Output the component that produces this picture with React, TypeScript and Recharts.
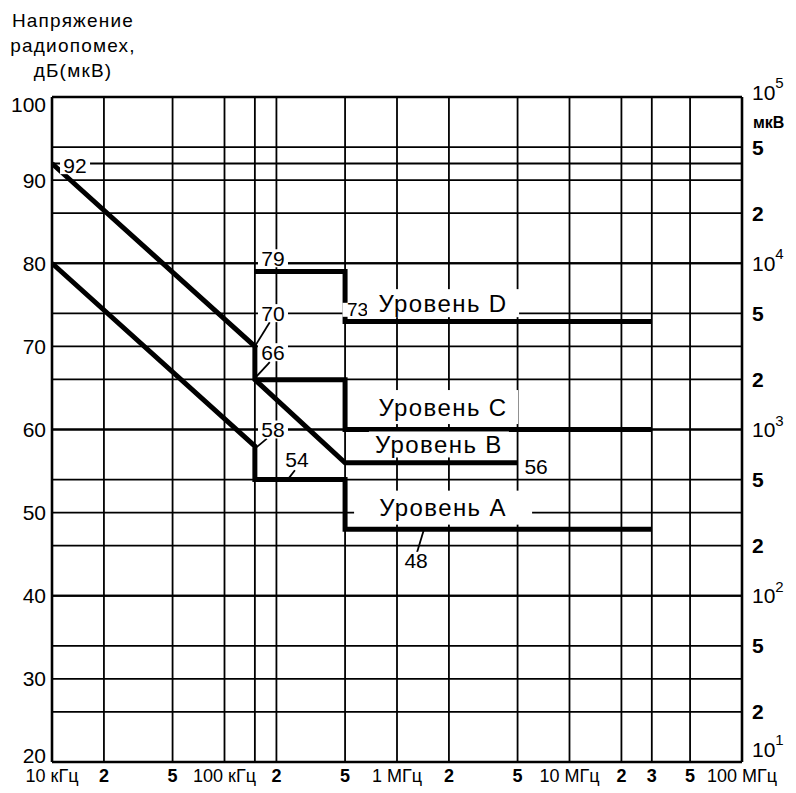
import {
  ComposedChart,
  Line,
  ReferenceDot,
  ReferenceLine,
  XAxis,
  YAxis,
} from "recharts";

// Допустимые уровни радиопомех: сетка в дБ(мкВ) слева и мкВ справа,
// частота по логарифмической шкале 10 кГц – 100 МГц.

const FONT = '"Liberation Sans", Arial, sans-serif';

// частоты, Гц
const xTicks = [1e4, 2e4, 5e4, 1e5, 2e5, 5e5, 1e6, 2e6, 5e6, 1e7, 2e7, 3e7, 5e7, 1e8];
const xTickLabels = ["10 кГц", "2", "5", "100 кГц", "2", "5", "1 МГц", "2", "5", "10 МГц", "2", "3", "5", "100 МГц"];
const xGrid = [2e4, 5e4, 1e5, 1.5e5, 2e5, 5e5, 1e6, 2e6, 5e6, 1e7, 2e7, 3e7, 5e7];

// дБ(мкВ)
const dbTicks = [20, 30, 40, 50, 60, 70, 80, 90, 100];
// правая шкала, мкВ
const uvTicks = [1e1, 2e1, 5e1, 1e2, 2e2, 5e2, 1e3, 2e3, 5e3, 1e4, 2e4, 5e4, 1e5];
const uvToDb = (uv: number) => 20 * Math.log10(uv);
const extraGrid = [92];

// уровни
const levelD = [
  { f: 1.5e5, db: 79 },
  { f: 5e5, db: 79 },
  { f: 5e5, db: 73 },
  { f: 3e7, db: 73 },
];
const levelC = [
  { f: 1.5e5, db: 66 },
  { f: 5e5, db: 66 },
  { f: 5e5, db: 60 },
  { f: 3e7, db: 60 },
];
const levelB = [
  { f: 1e4, db: 92 },
  { f: 1.5e5, db: 70 },
  { f: 1.5e5, db: 66 },
  { f: 5e5, db: 56 },
  { f: 5e6, db: 56 },
];
const levelA = [
  { f: 1e4, db: 80 },
  { f: 1.5e5, db: 58 },
  { f: 1.5e5, db: 54 },
  { f: 5e5, db: 54 },
  { f: 5e5, db: 48 },
  { f: 3e7, db: 48 },
];

// подписи (центр текста в координатах графика)
const tags = [
  { text: "92", f: 1.36e4, db: 91.8 },
  { text: "79", f: 1.91e5, db: 80.6 },
  { text: "70", f: 1.91e5, db: 74.0 },
  { text: "66", f: 1.91e5, db: 69.3 },
  { text: "58", f: 1.91e5, db: 60.0 },
  { text: "54", f: 2.63e5, db: 56.4 },
  { text: "73", f: 5.9e5, db: 74.4 },
  { text: "56", f: 6.4e6, db: 55.6 },
  { text: "48", f: 1.29e6, db: 44.2 },
  { text: "Уровень D", f: 1.85e6, db: 75.2 },
  { text: "Уровень C", f: 1.85e6, db: 62.7 },
  { text: "Уровень B", f: 1.75e6, db: 58.2 },
  { text: "Уровень A", f: 1.85e6, db: 50.6 },
];
const tagBox: Record<string, { w: number; h: number; size: number }> = {
  "92": { w: 30, h: 18, size: 21 },
  "79": { w: 30, h: 18, size: 21 },
  "70": { w: 30, h: 18, size: 21 },
  "66": { w: 30, h: 18, size: 21 },
  "58": { w: 30, h: 18, size: 21 },
  "54": { w: 28, h: 18, size: 21 },
  "73": { w: 30, h: 14, size: 19 },
  "56": { w: 28, h: 18, size: 21 },
  "48": { w: 28, h: 18, size: 21 },
  "Уровень D": { w: 152, h: 28, size: 24 },
  "Уровень C": { w: 150, h: 34, size: 24 },
  "Уровень B": { w: 140, h: 26, size: 24 },
  "Уровень A": { w: 178, h: 34, size: 24 },
};

// выноски
const leaders = [
  [{ x: 1.83e5, y: 72.9 }, { x: 1.5e5, y: 70 }],
  [{ x: 1.83e5, y: 68.1 }, { x: 1.52e5, y: 66.3 }],
  [{ x: 1.76e5, y: 58.9 }, { x: 1.5e5, y: 57.7 }],
  [{ x: 2.56e5, y: 55.1 }, { x: 2.33e5, y: 54 }],
  [{ x: 1.306e6, y: 45.2 }, { x: 1.434e6, y: 48 }],
];

function Tag(props: any) {
  const { cx, cy, text } = props;
  const b = tagBox[text];
  return (
    <g>
      <rect x={cx - b.w / 2} y={cy - b.h / 2} width={b.w} height={b.h} fill="#fff" />
      <text
        x={cx}
        y={cy}
        textAnchor="middle"
        dominantBaseline="central"
        fontSize={b.size}
        fontFamily={FONT}
        letterSpacing={text.length > 3 ? 1.4 : 0}
        fill="#000"
      >
        {text}
      </text>
    </g>
  );
}

function XTick(props: any) {
  const { x, y, payload } = props;
  const i = xTicks.indexOf(payload.value);
  const label = xTickLabels[i] ?? "";
  const bold = label.length === 1;
  return (
    <text
      x={x}
      y={y + 20}
      textAnchor="middle"
      fontSize={18}
      fontWeight={bold ? 700 : 400}
      fontFamily={FONT}
      fill="#000"
    >
      {label}
    </text>
  );
}

function LeftTick(props: any) {
  const { x, y, payload } = props;
  const v = payload.value;
  const dy = v === 100 ? 7 : v === 20 ? -7 : 0;
  return (
    <text x={x} y={y + dy} textAnchor="end" dominantBaseline="central" fontSize={21} fontFamily={FONT} fill="#000">
      {v}
    </text>
  );
}

function RightTick(props: any) {
  const { x, y, payload } = props;
  const uv = uvTicks.find((u) => Math.abs(uvToDb(u) - payload.value) < 0.01) ?? 10;
  const exp = Math.floor(Math.log10(uv) + 1e-9);
  const mant = Math.round(uv / Math.pow(10, exp));
  if (mant === 1) {
    const dy = exp === 5 ? -5 : exp === 1 ? -13 : 0;
    return (
      <text x={x} y={y + dy} dominantBaseline="central" fontSize={21} fontFamily={FONT} fill="#000">
        10
        <tspan dy={-10} fontSize={15}>
          {exp}
        </tspan>
      </text>
    );
  }
  return (
    <text x={x} y={y} dominantBaseline="central" fontSize={21} fontWeight={700} fontFamily={FONT} fill="#000">
      {mant}
    </text>
  );
}

export default function App() {
  const gridW = 1.8;
  return (
    <div style={{ position: "absolute", left: 0, top: 0, width: 796, height: 793, background: "#fff" }}>
      <ComposedChart width={796} height={793} margin={{ top: 97, right: 0, bottom: 0, left: 0 }}>
        <XAxis
          dataKey="f"
          type="number"
          scale="log"
          domain={[1e4, 1e8]}
          ticks={xTicks}
          tick={<XTick />}
          tickLine={false}
          axisLine={false}
          tickSize={0}
          tickMargin={0}
          height={31}
          allowDataOverflow
          interval={0}
        />
        <YAxis
          yAxisId="db"
          type="number"
          domain={[20, 100]}
          ticks={dbTicks}
          tick={<LeftTick />}
          tickLine={false}
          axisLine={false}
          tickSize={0}
          tickMargin={6}
          width={52}
          interval={0}
        />
        <YAxis
          yAxisId="uv"
          orientation="right"
          type="number"
          domain={[20, 100]}
          ticks={uvTicks.map(uvToDb)}
          tick={<RightTick />}
          tickLine={false}
          axisLine={false}
          tickSize={0}
          tickMargin={10}
          width={54}
          interval={0}
        />

        {xGrid.map((f) => (
          <ReferenceLine key={"x" + f} x={f} yAxisId="db" stroke="#000" strokeWidth={gridW} />
        ))}
        {[...dbTicks.slice(1, -1), ...uvTicks.slice(1, -1).map(uvToDb), ...extraGrid].map((v) => (
          <ReferenceLine key={"y" + v} y={v} yAxisId="db" stroke="#000" strokeWidth={gridW} />
        ))}
        <ReferenceLine x={1e4} yAxisId="db" stroke="#000" strokeWidth={2.6} />
        <ReferenceLine x={1e8} yAxisId="db" stroke="#000" strokeWidth={2.6} />
        <ReferenceLine y={20} yAxisId="db" stroke="#000" strokeWidth={2.6} />
        <ReferenceLine y={100} yAxisId="db" stroke="#000" strokeWidth={2.6} />

        {[levelD, levelC, levelB, levelA].map((d, i) => (
          <Line
            key={i}
            data={d}
            dataKey="db"
            yAxisId={i === 0 ? "uv" : "db"}
            type="linear"
            stroke="#000"
            strokeWidth={5}
            strokeLinejoin="miter"
            strokeLinecap="butt"
            dot={false}
            activeDot={false}
            isAnimationActive={false}
          />
        ))}

        {tags.map((t) => (
          <ReferenceDot
            key={t.text}
            x={t.f}
            y={t.db}
            yAxisId="db"
            r={0}
            shape={(p: any) => <Tag {...p} text={t.text} />}
          />
        ))}
        {leaders.map((s, i) => (
          <ReferenceLine key={"l" + i} segment={s} yAxisId="db" stroke="#000" strokeWidth={1.8} />
        ))}
      </ComposedChart>
      <svg
        width={796}
        height={793}
        style={{ position: "absolute", left: 0, top: 0, pointerEvents: "none" }}
        fontFamily={FONT}
      >
        <text x={73} y={27} textAnchor="middle" fontSize={19} letterSpacing={1.2}>
          Напряжение
        </text>
        <text x={73} y={52} textAnchor="middle" fontSize={19} letterSpacing={1.2}>
          радиопомех,
        </text>
        <text x={73} y={77} textAnchor="middle" fontSize={19} letterSpacing={1.2}>
          дБ(мкВ)
        </text>
        <text x={753} y={128} fontSize={16} fontWeight={700}>
          мкВ
        </text>
      </svg>
    </div>
  );
}
